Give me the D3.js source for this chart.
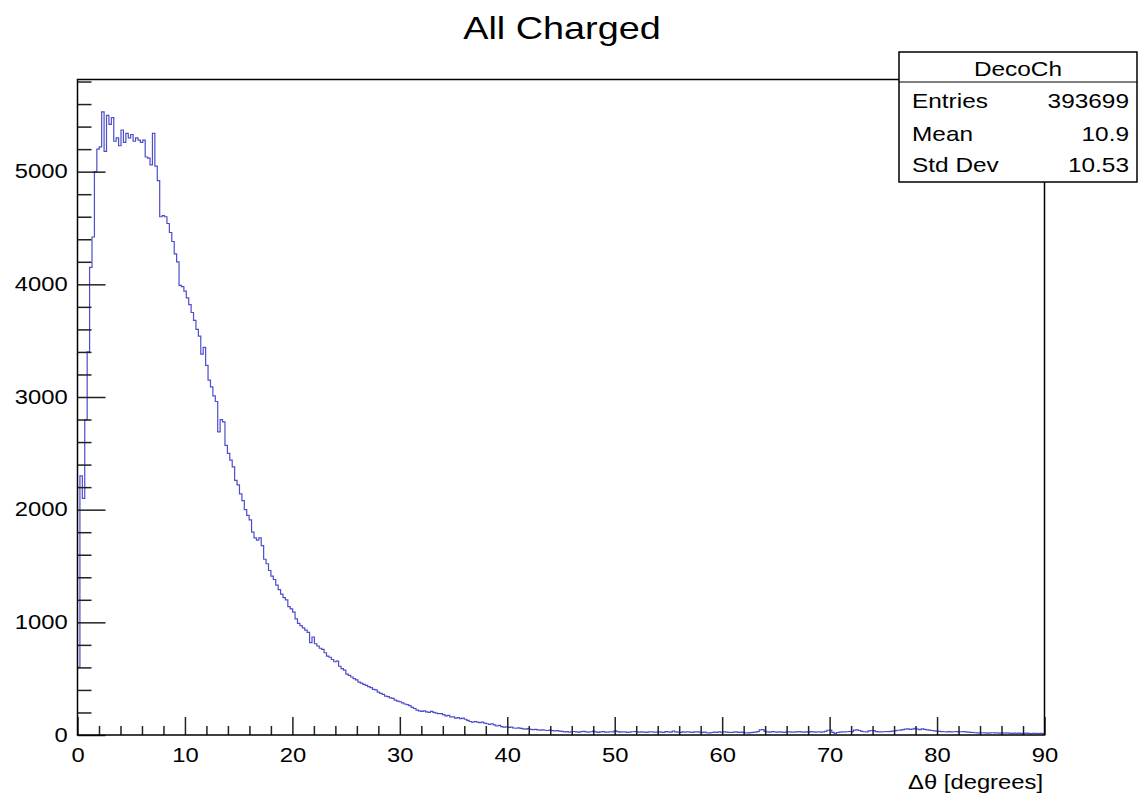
<!DOCTYPE html>
<html>
<head>
<meta charset="utf-8">
<script src="https://cdn.jsdelivr.net/npm/d3@7"></script>
<style>
  html, body { margin: 0; padding: 0; background: #fff; }
  svg { display: block; }
  text { font-family: "Liberation Sans", Arial, Helvetica, sans-serif; fill: #000; }
</style>
</head>
<body>
<svg id="chart" width="1139" height="799"></svg>
<script>
// ---------------- data ----------------
const title = "All Charged";
const xTitle = "Δθ [degrees]";
const histName = "DecoCh";
const statLabels = ["Entries", "Mean", "Std Dev"];
const statValues = ["393699", "10.9", "10.53"];
const xMin = 0, xMax = 90, nBins = 400;
const xMajorTicks = [0, 10, 20, 30, 40, 50, 60, 70, 80, 90];
const yMajorTicks = [0, 1000, 2000, 3000, 4000, 5000];

// bins 0-45 (0 - 10.35 deg)
const countsRise = [
  600, 2300, 2100, 2800, 3400, 4150, 4420, 5000, 5200, 5220,
  5530, 5180, 5500, 5420, 5480, 5270, 5300, 5230, 5370, 5260,
  5340, 5300, 5330, 5270, 5300, 5280, 5260, 5280, 5130, 5120,
  5060, 5340, 5050, 4920, 4600, 4610, 4600, 4540, 4460, 4380,
  4270, 4200, 3990, 3980, 3940, 3880
];
// bins 46-85
const countsFall = [
  3820, 3750, 3680, 3600, 3540, 3380, 3440, 3280, 3150, 3090,
  3010, 2960, 2690, 2800, 2780, 2570, 2500, 2440, 2380, 2260,
  2220, 2140, 2080, 2000, 1950, 1910, 1800, 1750, 1730, 1750,
  1680, 1560, 1520, 1460, 1410, 1380, 1330, 1290, 1250, 1220
];
// bins 86-176
const countsSlope = [
  1200, 1140, 1120, 1090, 1030, 990, 970, 950, 930, 910,
  820, 870, 810, 790, 770, 760, 730, 700, 690, 670,
  650, 655, 610, 590, 575, 540, 530, 515, 500, 490,
  470, 460, 450, 440, 430, 420, 405, 400, 380, 370,
  360, 345, 340, 330, 325, 310, 300, 295, 285, 275,
  270, 260, 245, 235, 220, 215, 210, 215, 205, 200,
  210, 200, 195, 190, 190, 180, 170, 175, 160, 160,
  150, 155, 145, 150, 140, 130, 120, 115, 120, 115,
  110, 115, 105, 100, 95, 100, 90, 80, 85, 75,
  70
];
// bins 177-399
const countsTail = [
  72, 68, 70, 62, 60, 64, 58, 55, 52, 56, 50, 48, 50, 46, 44, 45, 42, 40, 43, 38, 36, 39, 35,
  32, 28, 30, 26, 29, 31, 27, 25, 30, 33, 28, 26, 29, 35, 27, 24, 28, 30, 26, 25,
  29, 27, 36, 30, 25, 27, 28, 24, 26, 29, 31, 27, 25, 28, 26, 23, 27, 29, 25, 26,
  28, 26, 24, 30, 27, 25, 34, 28, 26, 24, 27, 25, 29, 26, 24, 27, 28, 25, 23, 26,
  20, 18, 22, 26, 24, 27, 25, 28, 26, 24, 22, 25, 27, 24, 26, 23, 20, 18, 21, 24,
  26, 30, 45, 48, 32, 28, 26, 30, 27, 25, 28, 26, 24, 29, 27, 25, 26, 28, 30, 27,
  25, 28, 26, 30, 27, 25, 29, 26, 28, 33, 42, 44, 24, 14, 22, 26, 28, 27, 29, 31,
  30, 44, 46, 40, 32, 29, 28, 36, 40, 38, 30, 28, 27, 29, 31, 30, 33, 35, 38, 42,
  44, 48, 52, 55, 50, 53, 58, 52, 48, 55, 50, 46, 44, 40, 36, 34, 32, 30, 29, 28,
  30, 28, 29, 31, 27, 29, 30, 28, 26, 24, 22, 20, 19, 18, 20, 19, 17, 18, 20, 19,
  18, 17, 19, 16, 18, 17, 15, 16, 14, 16, 15, 14, 16, 15, 13, 14, 15, 13, 14, 12
];

// ---------------- build ----------------
const counts = countsRise.concat(countsFall, countsSlope, countsTail);
const binW = (xMax - xMin) / nBins;
const pts = counts.map((c, i) => ({ x: xMin + i * binW, y: c }));
pts.push({ x: xMax, y: counts[counts.length - 1] });

const svg = d3.select("#chart");
svg.append("rect").attr("width", 1139).attr("height", 799).attr("fill", "#fff");

const pLeft = 77.5, pRight = 1044.5, pTop = 79.5, pBottom = 735;
const x = d3.scaleLinear().domain([xMin, xMax]).range([pLeft, pRight]);
const y = d3.scaleLinear().domain([0, 5818]).range([pBottom, pTop]);
const SX = 1.22;

// histogram line
const line = d3.line().x(d => x(d.x)).y(d => y(d.y)).curve(d3.curveStepAfter);
svg.append("path")
  .datum(pts)
  .attr("d", line)
  .attr("fill", "none")
  .attr("stroke", "#4d4dcc")
  .attr("stroke-width", 1.2);

// axes
const tickColor = "#222";
const yMinorTicks = d3.range(0, 5801, 200).filter(v => v % 1000 !== 0);
const xMinorTicks = d3.range(0, 91, 2).filter(v => v % 10 !== 0);

function styleAxis(g) {
  g.select(".domain").remove();
  g.selectAll(".tick line").attr("stroke", tickColor).attr("stroke-width", 1.5);
}

svg.append("g").attr("transform", `translate(${pLeft},0)`)
  .call(d3.axisLeft(y).tickValues(yMinorTicks).tickSize(-14).tickFormat(""))
  .call(styleAxis);
const yAx = svg.append("g").attr("transform", `translate(${pLeft},0)`)
  .call(d3.axisLeft(y).tickValues(yMajorTicks).tickSize(-28).tickPadding(8).tickFormat(d3.format("d")))
  .call(styleAxis);
yAx.selectAll("text")
  .attr("font-size", "19.5px")
  .attr("font-family", "Liberation Sans, Arial, sans-serif")
  .attr("fill", "#000")
  .attr("transform", `scale(${SX},1)`);

svg.append("g").attr("transform", `translate(0,${pBottom})`)
  .call(d3.axisBottom(x).tickValues(xMinorTicks).tickSize(-9).tickFormat(""))
  .call(styleAxis);
const xAx = svg.append("g").attr("transform", `translate(0,${pBottom})`)
  .call(d3.axisBottom(x).tickValues(xMajorTicks).tickSize(-18).tickPadding(13).tickFormat(d3.format("d")))
  .call(styleAxis);
xAx.selectAll("text")
  .attr("font-size", "19.5px")
  .attr("font-family", "Liberation Sans, Arial, sans-serif")
  .attr("fill", "#000")
  .attr("transform", `scale(${SX},1)`);

// frame
svg.append("rect")
  .attr("x", pLeft).attr("y", pTop)
  .attr("width", pRight - pLeft).attr("height", pBottom - pTop)
  .attr("fill", "none").attr("stroke", "#000").attr("stroke-width", 1.5);

// text helper with horizontal stretch
function label(txt, px, py, size, anchor) {
  svg.append("g").attr("transform", `translate(${px},${py}) scale(${SX},1)`)
    .append("text")
    .attr("text-anchor", anchor)
    .attr("font-size", size + "px")
    .text(txt);
}

label(title, 562, 39, 31, "middle");
label(xTitle, 1043, 789, 19.5, "end");

// stats box
const bx = 899, by = 52, bw = 238, bh = 130, hdr = 82;
svg.append("rect").attr("x", bx).attr("y", by).attr("width", bw).attr("height", bh)
  .attr("fill", "#fff").attr("stroke", "#000").attr("stroke-width", 1.5);
svg.append("line").attr("x1", bx).attr("x2", bx + bw).attr("y1", hdr).attr("y2", hdr)
  .attr("stroke", "#000").attr("stroke-width", 1.2);
label(histName, bx + bw / 2, 76, 20, "middle");
const rowY = [108, 141, 172];
statLabels.forEach((s, i) => {
  label(s, 912, rowY[i], 20, "start");
  label(statValues[i], 1129, rowY[i], 20, "end");
});
</script>
</body>
</html>
